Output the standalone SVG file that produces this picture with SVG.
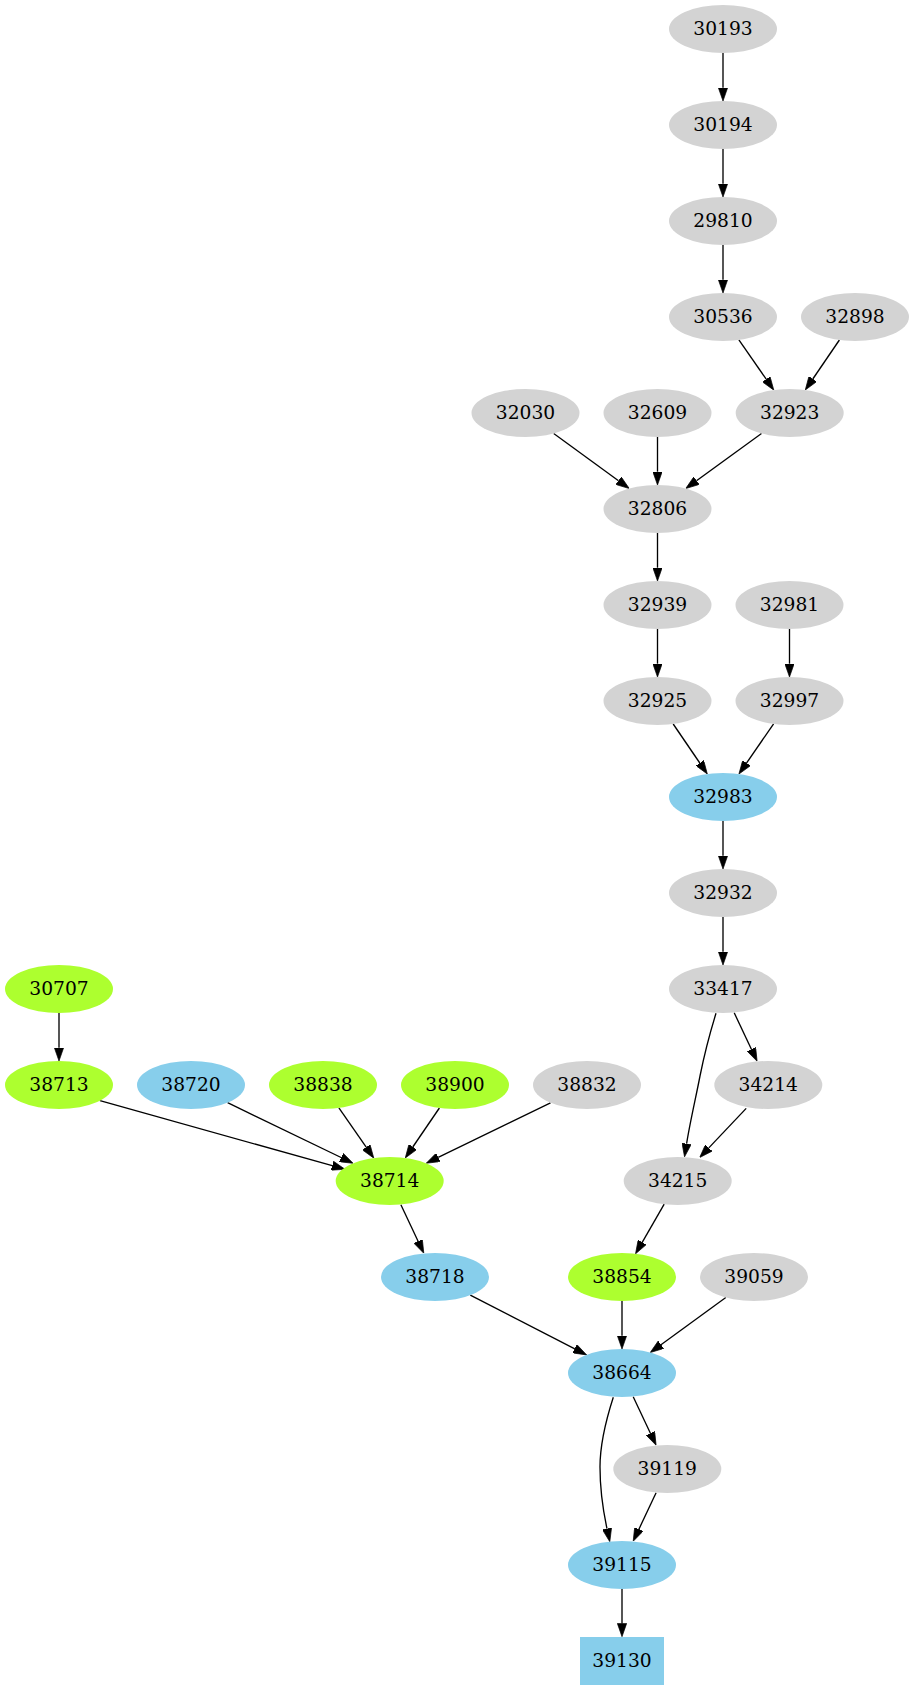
<svg xmlns="http://www.w3.org/2000/svg" width="914" height="1691" viewBox="0 0 914 1691">
<style>
.g{fill:#d3d3d3}
.b{fill:#87ceeb}
.y{fill:#adff2f}
text{font-family:"DejaVu Serif","Liberation Serif",serif;font-size:18.67px;text-anchor:middle;fill:#000}
.e path{fill:none;stroke:#000;stroke-width:1.333;marker-end:url(#ah)}
</style>
<defs>
<marker id="ah" viewBox="0 0 10 7" refX="0" refY="3.5" markerWidth="10" markerHeight="7" markerUnits="strokeWidth" orient="auto">
<path d="M0,0 L10,3.5 L0,7 z" fill="#000" stroke="#000" stroke-width="0.5"/>
</marker>
</defs>
<rect x="0" y="0" width="914" height="1691" fill="#fff"/>
<g id="edges" class="e">
<path d="M723,53 L723,87.7"/>
<path d="M723,149 L723,183.7"/>
<path d="M723,245 L723,279.7"/>
<path d="M738.9,339.9 L766.2,379.2"/>
<path d="M839.4,340 L812.8,379"/>
<path d="M553.7,433.5 L618.5,480.7"/>
<path d="M657.5,437 L657.5,471.7"/>
<path d="M761.5,433.5 L696.5,480.7"/>
<path d="M657.5,533 L657.5,567.7"/>
<path d="M657.5,629 L657.5,663.7"/>
<path d="M789.5,629 L789.5,663.7"/>
<path d="M673.2,724 L699.8,763"/>
<path d="M773.6,723.9 L746.5,763.1"/>
<path d="M723,821 L723,855.7"/>
<path d="M723,917 L723,951.7"/>
<path d="M734.2,1012.8 L751.4,1049.2"/>
<path d="M716,1013.3 C709,1036 704,1056 700,1076 C696,1097 690,1122 686.6,1143.7"/>
<path d="M746.2,1108.4 L708.8,1147.9"/>
<path d="M664.2,1204.2 L642.2,1242.3"/>
<path d="M622,1301 L622,1335.7"/>
<path d="M725.8,1297.5 L661,1344.7"/>
<path d="M470.3,1295.1 L574.8,1348.8"/>
<path d="M633.2,1396.8 L650.4,1433.2"/>
<path d="M613.3,1397.3 C606,1420 600,1444 600,1467 C600,1490 603,1510 607,1528.7"/>
<path d="M656.1,1492.8 L638.9,1529.2"/>
<path d="M622,1589 L622,1623.4"/>
<path d="M59,1013 L59,1047.7"/>
<path d="M100,1100.7 L332.2,1165.7"/>
<path d="M227.6,1102.7 L341.1,1157.5"/>
<path d="M338.9,1107.9 L366.2,1147.2"/>
<path d="M439.4,1108 L412.8,1147"/>
<path d="M550.5,1102.8 L438.2,1157.4"/>
<path d="M400.9,1204.8 L418.1,1241.2"/>
</g>
<g id="n30193"><ellipse class="g" cx="723" cy="29" rx="54" ry="24"/><text x="723" y="35">30193</text></g>
<g id="n30194"><ellipse class="g" cx="723" cy="125" rx="54" ry="24"/><text x="723" y="131">30194</text></g>
<g id="n29810"><ellipse class="g" cx="723" cy="221" rx="54" ry="24"/><text x="723" y="227">29810</text></g>
<g id="n30536"><ellipse class="g" cx="723" cy="317" rx="54" ry="24"/><text x="723" y="323">30536</text></g>
<g id="n32898"><ellipse class="g" cx="855" cy="317" rx="54" ry="24"/><text x="855" y="323">32898</text></g>
<g id="n32030"><ellipse class="g" cx="525.5" cy="413" rx="54" ry="24"/><text x="525.5" y="419">32030</text></g>
<g id="n32609"><ellipse class="g" cx="657.5" cy="413" rx="54" ry="24"/><text x="657.5" y="419">32609</text></g>
<g id="n32923"><ellipse class="g" cx="789.7" cy="413" rx="54" ry="24"/><text x="789.7" y="419">32923</text></g>
<g id="n32806"><ellipse class="g" cx="657.5" cy="509" rx="54" ry="24"/><text x="657.5" y="515">32806</text></g>
<g id="n32939"><ellipse class="g" cx="657.5" cy="605" rx="54" ry="24"/><text x="657.5" y="611">32939</text></g>
<g id="n32981"><ellipse class="g" cx="789.5" cy="605" rx="54" ry="24"/><text x="789.5" y="611">32981</text></g>
<g id="n32925"><ellipse class="g" cx="657.5" cy="701" rx="54" ry="24"/><text x="657.5" y="707">32925</text></g>
<g id="n32997"><ellipse class="g" cx="789.5" cy="701" rx="54" ry="24"/><text x="789.5" y="707">32997</text></g>
<g id="n32983"><ellipse class="b" cx="723" cy="797" rx="54" ry="24"/><text x="723" y="803">32983</text></g>
<g id="n32932"><ellipse class="g" cx="723" cy="893" rx="54" ry="24"/><text x="723" y="899">32932</text></g>
<g id="n33417"><ellipse class="g" cx="723" cy="989" rx="54" ry="24"/><text x="723" y="995">33417</text></g>
<g id="n30707"><ellipse class="y" cx="59" cy="989" rx="54" ry="24"/><text x="59" y="995">30707</text></g>
<g id="n38713"><ellipse class="y" cx="59" cy="1085" rx="54" ry="24"/><text x="59" y="1091">38713</text></g>
<g id="n38720"><ellipse class="b" cx="191" cy="1085" rx="54" ry="24"/><text x="191" y="1091">38720</text></g>
<g id="n38838"><ellipse class="y" cx="323" cy="1085" rx="54" ry="24"/><text x="323" y="1091">38838</text></g>
<g id="n38900"><ellipse class="y" cx="455" cy="1085" rx="54" ry="24"/><text x="455" y="1091">38900</text></g>
<g id="n38832"><ellipse class="g" cx="587" cy="1085" rx="54" ry="24"/><text x="587" y="1091">38832</text></g>
<g id="n34214"><ellipse class="g" cx="768.3" cy="1085" rx="54" ry="24"/><text x="768.3" y="1091">34214</text></g>
<g id="n38714"><ellipse class="y" cx="389.7" cy="1181" rx="54" ry="24"/><text x="389.7" y="1187">38714</text></g>
<g id="n34215"><ellipse class="g" cx="677.7" cy="1181" rx="54" ry="24"/><text x="677.7" y="1187">34215</text></g>
<g id="n38718"><ellipse class="b" cx="435" cy="1277" rx="54" ry="24"/><text x="435" y="1283">38718</text></g>
<g id="n38854"><ellipse class="y" cx="622" cy="1277" rx="54" ry="24"/><text x="622" y="1283">38854</text></g>
<g id="n39059"><ellipse class="g" cx="754" cy="1277" rx="54" ry="24"/><text x="754" y="1283">39059</text></g>
<g id="n38664"><ellipse class="b" cx="622" cy="1373" rx="54" ry="24"/><text x="622" y="1379">38664</text></g>
<g id="n39119"><ellipse class="g" cx="667.3" cy="1469" rx="54" ry="24"/><text x="667.3" y="1475">39119</text></g>
<g id="n39115"><ellipse class="b" cx="622" cy="1565" rx="54" ry="24"/><text x="622" y="1571">39115</text></g>
<g id="n39130"><rect class="b" x="580" y="1637" width="84" height="48"/><text x="622" y="1667">39130</text></g>
</svg>
